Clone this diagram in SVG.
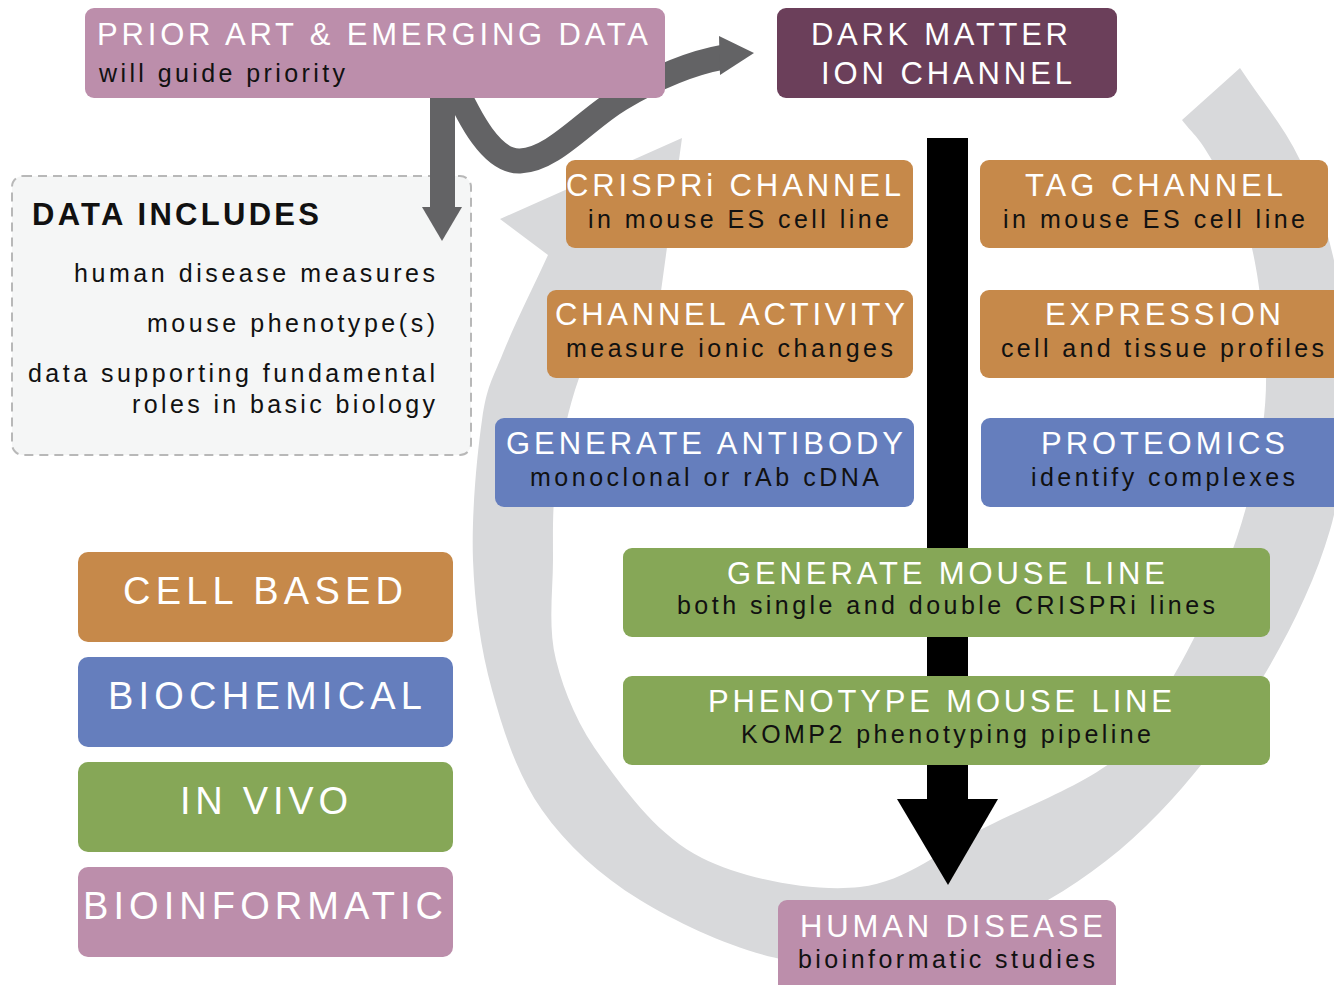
<svg xmlns="http://www.w3.org/2000/svg" width="1334" height="985" viewBox="0 0 1334 985">
<defs>
<style>
.t{font-family:"Liberation Sans",Arial,sans-serif;font-size:31px;fill:#ffffff}
.s{font-family:"Liberation Sans",Arial,sans-serif;font-size:25px;fill:#111111}
.lg{font-family:"Liberation Sans",Arial,sans-serif;font-size:38px;fill:#ffffff}
.d{font-family:"Liberation Sans",Arial,sans-serif;font-size:25px;fill:#111111}
.mauve{fill:#bc8eab}
.plum{fill:#6b3f5a}
.orange{fill:#c6894a}
.blue{fill:#657ebd}
.green{fill:#86a757}
</style>
</defs>
<rect width="1334" height="985" fill="#ffffff"/>
<g id="connectors">
  <path id="cycle" fill="#d8d9db" d="M1240,68 C1260,98.7 1284,126.3 1300,160 C1316,193.7 1328.3,231.7 1336,270 C1343.7,308.3 1347,346.7 1346,390 C1345,433.3 1343.8,482.2 1330,530 C1316.2,577.8 1291.3,630 1263,677 C1234.7,724 1195.8,774.8 1160,812 C1124.2,849.2 1088,877 1048,900 C1008,923 963.7,940 920,950 C876.3,960 832.7,968.3 786,960 C739.3,951.7 680.7,925 640,900 C599.3,875 566.7,845 542,810 C517.3,775 503.5,731.7 492,690 C480.5,648.3 474.7,605 473,560 C471.3,515 477,454.5 482,420 C487,385.5 492,380.5 503,353 C514,325.5 533,287.7 548,255 L500,219 L682,138 L655,335 L612,303 C599.7,332 584.3,360.5 575,390 C565.7,419.5 559.7,451.7 556,480 C552.3,508.3 553,530 553,560 C553,590 547.7,626.7 556,660 C564.3,693.3 578.7,727 603,760 C627.3,793 659.2,836.8 702,858 C744.8,879.2 812.7,892.2 860,887 C907.3,881.8 943.7,848.2 986,827 C1028.3,805.8 1082.8,785 1114,760 C1145.2,735 1154.5,708.7 1173,677 C1191.5,645.3 1211.3,604.5 1225,570 C1238.7,535.5 1248.2,503.3 1255,470 C1261.8,436.7 1266.8,408.3 1266,370 C1265.2,331.7 1259.3,275.5 1250,240 C1240.7,204.5 1221.3,177 1210,157 C1198.7,137 1191.3,132.3 1182,120 Z"/>
  <g id="flow-arrow" fill="#000000">
    <rect x="927" y="138" width="41" height="664"/>
    <polygon points="897,799 998,799 948,885"/>
  </g>
  <g id="priority-arrows" fill="#636365">
    <path d="M452,80 C470,120 492,162 520,161 C553,160 585,120 620,99 C652,80 690,63 724,57" fill="none" stroke="#636365" stroke-width="25"/>
    <polygon points="719,36 754,53 720,75"/>
  </g>
</g>
<g id="data-includes">
  <rect x="12" y="176" width="459" height="279" rx="11" fill="#f5f6f6" stroke="#b8b8b8" stroke-width="2" stroke-dasharray="9,6"/>
  <text x="32" y="225" font-family="Liberation Sans, Arial, sans-serif" font-size="31" font-weight="bold" fill="#111" textLength="287" lengthAdjust="spacing">DATA INCLUDES</text>
  <text class="d" x="435" y="282" text-anchor="end" textLength="361" lengthAdjust="spacing">human disease measures</text>
  <text class="d" x="435" y="332" text-anchor="end" textLength="288" lengthAdjust="spacing">mouse phenotype(s)</text>
  <text class="d" x="435" y="382" text-anchor="end" textLength="407" lengthAdjust="spacing">data supporting fundamental</text>
  <text class="d" x="435" y="413" text-anchor="end" textLength="303" lengthAdjust="spacing">roles in basic biology</text>
</g>
<g id="down-arrow" fill="#636365">
  <rect x="430" y="85" width="25" height="125"/>
  <polygon points="422,207 462,207 442,241"/>
</g>
<g id="prior-art">
  <rect class="mauve" x="85" y="8" width="580" height="90" rx="9"/>
  <text class="t" x="97" y="45" textLength="551" lengthAdjust="spacing">PRIOR ART &amp; EMERGING DATA</text>
  <text class="s" x="99" y="82" textLength="246" lengthAdjust="spacing">will guide priority</text>
</g>
<g id="dark-matter">
  <rect class="plum" x="777" y="8" width="340" height="90" rx="9"/>
  <text class="t" x="811" y="45" textLength="257" lengthAdjust="spacing">DARK MATTER</text>
  <text class="t" x="821" y="84" textLength="251" lengthAdjust="spacing">ION CHANNEL</text>
</g>
<g id="crispri">
  <rect class="orange" x="566" y="160" width="347" height="88" rx="9"/>
  <text class="t" x="566" y="196" textLength="335" lengthAdjust="spacing">CRISPRi CHANNEL</text>
  <text class="s" x="588" y="228" textLength="301" lengthAdjust="spacing">in mouse ES cell line</text>
</g>
<g id="tag">
  <rect class="orange" x="980" y="160" width="348" height="88" rx="9"/>
  <text class="t" x="1025" y="196" textLength="258" lengthAdjust="spacing">TAG CHANNEL</text>
  <text class="s" x="1003" y="228" textLength="302" lengthAdjust="spacing">in mouse ES cell line</text>
</g>
<g id="channel-activity">
  <rect class="orange" x="547" y="290" width="366" height="88" rx="9"/>
  <text class="t" x="555" y="325" textLength="350" lengthAdjust="spacing">CHANNEL ACTIVITY</text>
  <text class="s" x="566" y="357" textLength="327" lengthAdjust="spacing">measure ionic changes</text>
</g>
<g id="expression">
  <rect class="orange" x="980" y="290" width="370" height="88" rx="9"/>
  <text class="t" x="1045" y="325" textLength="236" lengthAdjust="spacing">EXPRESSION</text>
  <text class="s" x="1001" y="357" textLength="323" lengthAdjust="spacing">cell and tissue profiles</text>
</g>
<g id="antibody">
  <rect class="blue" x="495" y="418" width="419" height="89" rx="9"/>
  <text class="t" x="506" y="454" textLength="397" lengthAdjust="spacing">GENERATE ANTIBODY</text>
  <text class="s" x="530" y="486" textLength="349" lengthAdjust="spacing">monoclonal or rAb cDNA</text>
</g>
<g id="proteomics">
  <rect class="blue" x="981" y="418" width="370" height="89" rx="9"/>
  <text class="t" x="1041" y="454" textLength="244" lengthAdjust="spacing">PROTEOMICS</text>
  <text class="s" x="1031" y="486" textLength="264" lengthAdjust="spacing">identify complexes</text>
</g>
<g id="mouse-line">
  <rect class="green" x="623" y="548" width="647" height="89" rx="9"/>
  <text class="t" x="727" y="584" textLength="438" lengthAdjust="spacing">GENERATE MOUSE LINE</text>
  <text class="s" x="677" y="614" textLength="538" lengthAdjust="spacing">both single and double CRISPRi lines</text>
</g>
<g id="phenotype">
  <rect class="green" x="623" y="676" width="647" height="89" rx="9"/>
  <text class="t" x="708" y="712" textLength="464" lengthAdjust="spacing">PHENOTYPE MOUSE LINE</text>
  <text class="s" x="741" y="743" textLength="410" lengthAdjust="spacing">KOMP2 phenotyping pipeline</text>
</g>
<g id="human-disease">
  <rect class="mauve" x="778" y="900" width="338" height="95" rx="9"/>
  <text class="t" x="800" y="937" textLength="303" lengthAdjust="spacing">HUMAN DISEASE</text>
  <text class="s" x="798" y="968" textLength="297" lengthAdjust="spacing">bioinformatic studies</text>
</g>
<g id="legend-cell">
  <rect class="orange" x="78" y="552" width="375" height="90" rx="10"/>
  <text class="lg" x="123" y="604" textLength="280" lengthAdjust="spacing">CELL BASED</text>
</g>
<g id="legend-biochemical">
  <rect class="blue" x="78" y="657" width="375" height="90" rx="10"/>
  <text class="lg" x="108" y="709" textLength="314" lengthAdjust="spacing">BIOCHEMICAL</text>
</g>
<g id="legend-invivo">
  <rect class="green" x="78" y="762" width="375" height="90" rx="10"/>
  <text class="lg" x="180" y="814" textLength="168" lengthAdjust="spacing">IN VIVO</text>
</g>
<g id="legend-bioinformatic">
  <rect class="mauve" x="78" y="867" width="375" height="90" rx="10"/>
  <text class="lg" x="83" y="919" textLength="360" lengthAdjust="spacing">BIOINFORMATIC</text>
</g>
</svg>
